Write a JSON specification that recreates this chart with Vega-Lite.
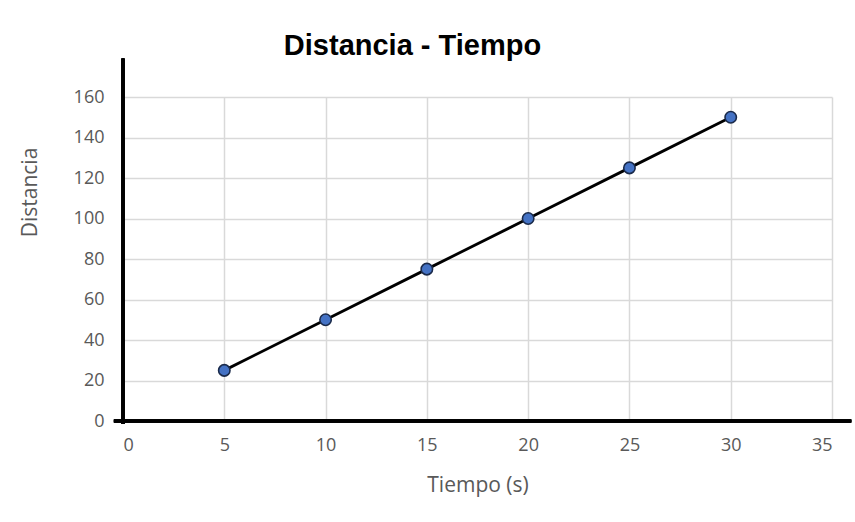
{
  "$schema": "https://vega.github.io/schema/vega-lite/v6.json",
  "autosize": "none",
  "width": 709,
  "height": 324,
  "padding": {"left": 123, "top": 97, "right": 23, "bottom": 101},
  "background": "white",
  "title": {
    "text": "Distancia - Tiempo",
    "font": "Liberation Sans",
    "fontSize": 29,
    "fontWeight": "bold",
    "color": "#000000",
    "anchor": "middle",
    "dx": -65,
    "baseline": "alphabetic",
    "offset": -27
  },
  "config": {
    "view": {"stroke": null},
    "axis": {
      "labelFont": "Open Sans",
      "titleFont": "Open Sans",
      "labelColor": "#595959",
      "titleColor": "#595959",
      "labelFontSize": 18,
      "titleFontSize": 21,
      "titleFontWeight": "normal",
      "gridColor": "#d9d9d9",
      "gridWidth": 1.5,
      "ticks": false,
      "domain": false
    }
  },
  "data": {
    "values": [
      {"t": 5, "d": 25},
      {"t": 10, "d": 50},
      {"t": 15, "d": 75},
      {"t": 20, "d": 100},
      {"t": 25, "d": 125},
      {"t": 30, "d": 150}
    ]
  },
  "layer": [
    {
      "mark": {"type": "line", "color": "#000000", "strokeWidth": 2.8},
      "encoding": {
        "x": {
          "field": "t", "type": "quantitative",
          "scale": {"domain": [0, 35], "nice": false, "zero": true},
          "axis": {"values": [0, 5, 10, 15, 20, 25, 30, 35], "title": "Tiempo (s)", "labelPadding": 15, "titleY": 64, "titleBaseline": "middle"}
        },
        "y": {
          "field": "d", "type": "quantitative",
          "scale": {"domain": [0, 160], "nice": false},
          "axis": {"values": [0, 20, 40, 60, 80, 100, 120, 140, 160], "title": "Distancia", "labelPadding": 19, "titleX": -93, "titleY": 95, "titleBaseline": "middle", "titleAngle": -90, "titleAlign": "center"}
        }
      }
    },
    {
      "mark": {"type": "rule", "color": "#000000", "strokeWidth": 3},
      "encoding": {
        "x": {"datum": 0, "type": "quantitative"},
        "y": {"datum": -1.5, "type": "quantitative"},
        "y2": {"datum": 179}
      }
    },
    {
      "mark": {"type": "rule", "color": "#000000", "strokeWidth": 3},
      "encoding": {
        "y": {"datum": 0, "type": "quantitative"},
        "x": {"datum": -0.45, "type": "quantitative"},
        "x2": {"datum": 35.95}
      }
    },
    {
      "mark": {"type": "point", "filled": true, "fill": "#4472C4", "stroke": "#1a2a4a", "strokeWidth": 1.6, "size": 130, "opacity": 1},
      "encoding": {
        "x": {"field": "t", "type": "quantitative"},
        "y": {"field": "d", "type": "quantitative"}
      }
    }
  ]
}
